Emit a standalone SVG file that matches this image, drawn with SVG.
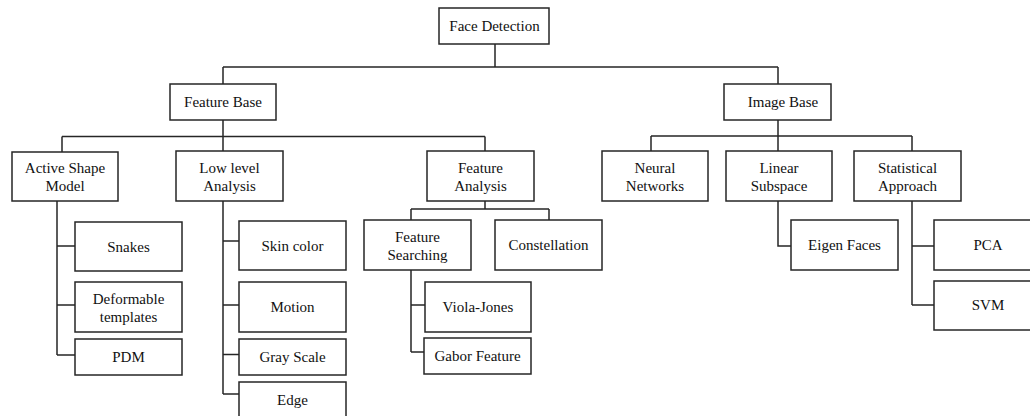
<svg xmlns="http://www.w3.org/2000/svg" width="1030" height="416" viewBox="0 0 1030 416">
<style>
rect{fill:#fff;stroke:#262626;stroke-width:1.5}
text{font-family:"Liberation Serif","Times New Roman",serif;font-size:15px;fill:#111;text-anchor:middle}
#connectors path{fill:none;stroke:#262626;stroke-width:1.5}
</style>
<rect x="0" y="0" width="1030" height="416" style="fill:#fff;stroke:none"/>
<g id="connectors">
<path d="M495,44V67M223,67H778M223,67V84M778,67V84"/>
<path d="M223,120V151M62,136.5H485M62,136.5V152M485,136.5V151"/>
<path d="M778,120V151M651,136H912M651,136V151M912,136V151"/>
<path d="M57,201V355M57,246H75M57,305H75M57,355H75"/>
<path d="M223,201V394M223,241H239M223,305H239M223,354.5H239M223,394H239"/>
<path d="M485,201V209M411,209H549M411,209V220M549,209V220"/>
<path d="M411,270V352M411,305H425M411,352H424"/>
<path d="M778,201V246H791"/>
<path d="M912,201V305M912,246H934M912,305H934"/>
</g>
<g id="face-detection"><rect x="439" y="8" width="110" height="36"/><text x="494.5" y="31">Face Detection</text></g>
<g id="feature-base"><rect x="170" y="84" width="106" height="36"/><text x="223" y="107">Feature Base</text></g>
<g id="image-base"><rect x="724" y="84" width="107" height="36"/><text x="783" y="107">Image Base</text></g>
<g id="active-shape-model"><rect x="12" y="152" width="106" height="49"/><text x="65" y="173">Active Shape</text><text x="65" y="191">Model</text></g>
<g id="low-level-analysis"><rect x="176" y="151" width="107" height="50"/><text x="229.5" y="172.5">Low level</text><text x="229.5" y="190.5">Analysis</text></g>
<g id="feature-analysis"><rect x="427" y="151" width="107" height="50"/><text x="480.5" y="172.5">Feature</text><text x="480.5" y="190.5">Analysis</text></g>
<g id="neural-networks"><rect x="602" y="151" width="106" height="50"/><text x="655" y="172.5">Neural</text><text x="655" y="190.5">Networks</text></g>
<g id="linear-subspace"><rect x="726" y="151" width="106" height="50"/><text x="779" y="172.5">Linear</text><text x="779" y="190.5">Subspace</text></g>
<g id="statistical-approach"><rect x="854" y="151" width="107" height="50"/><text x="907.5" y="172.5">Statistical</text><text x="907.5" y="190.5">Approach</text></g>
<g id="snakes"><rect x="75" y="222" width="107" height="49"/><text x="128.5" y="251.5">Snakes</text></g>
<g id="deformable-templates"><rect x="75" y="282" width="107" height="50"/><text x="128.5" y="303.5">Deformable</text><text x="128.5" y="321.5">templates</text></g>
<g id="pdm"><rect x="75" y="339" width="107" height="36"/><text x="128.5" y="362">PDM</text></g>
<g id="skin-color"><rect x="239" y="221" width="107" height="49"/><text x="292.5" y="250.5">Skin color</text></g>
<g id="motion"><rect x="239" y="282" width="107" height="50"/><text x="292.5" y="312">Motion</text></g>
<g id="gray-scale"><rect x="239" y="339" width="107" height="36"/><text x="292.5" y="362">Gray Scale</text></g>
<g id="edge"><rect x="239" y="382" width="107" height="44"/><text x="292.5" y="405">Edge</text></g>
<g id="feature-searching"><rect x="364" y="220" width="107" height="50"/><text x="417.5" y="241.5">Feature</text><text x="417.5" y="259.5">Searching</text></g>
<g id="constellation"><rect x="495" y="220" width="107" height="50"/><text x="548.5" y="250">Constellation</text></g>
<g id="viola-jones"><rect x="425" y="282" width="106" height="50"/><text x="478" y="312">Viola-Jones</text></g>
<g id="gabor-feature"><rect x="424" y="338" width="107" height="36"/><text x="477.5" y="361">Gabor Feature</text></g>
<g id="eigen-faces"><rect x="791" y="220" width="107" height="50"/><text x="844.5" y="250">Eigen Faces</text></g>
<g id="pca"><rect x="934" y="220" width="107" height="50"/><text x="988" y="250">PCA</text></g>
<g id="svm"><rect x="934" y="281" width="107" height="49"/><text x="988" y="310">SVM</text></g>
</svg>
